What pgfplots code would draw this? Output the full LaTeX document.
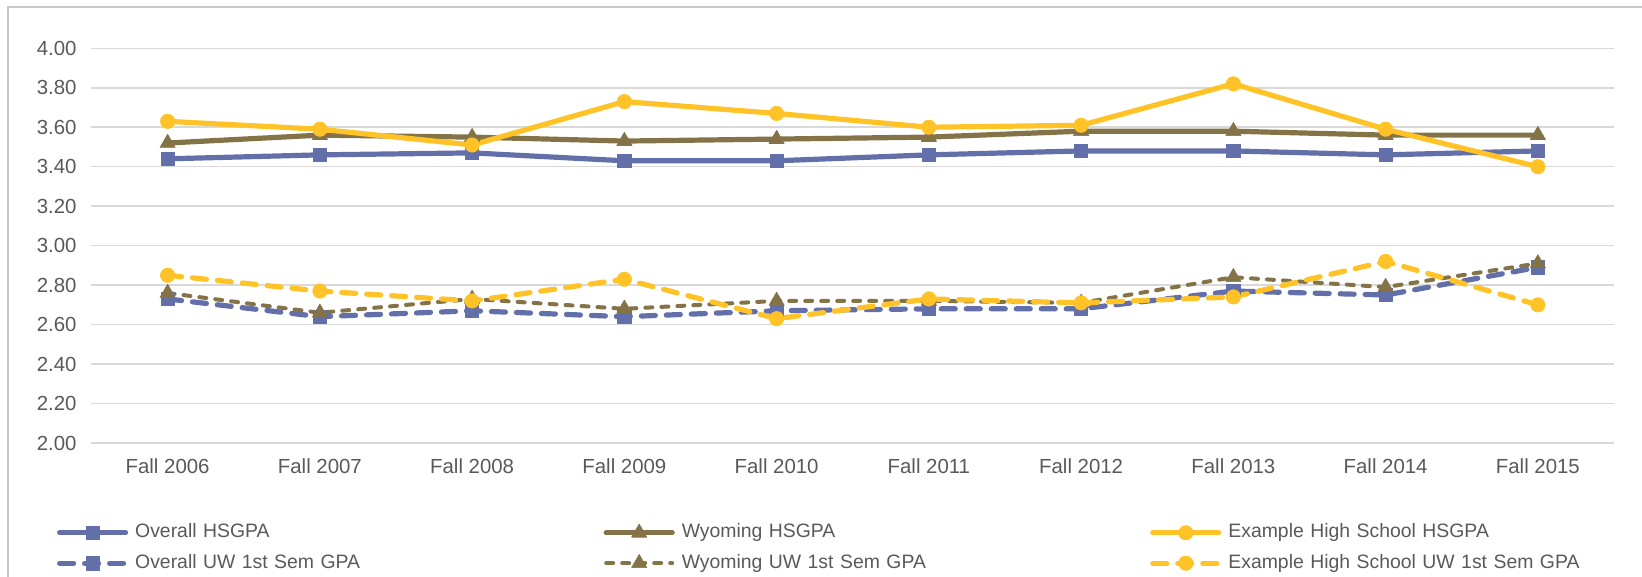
\documentclass[border=0pt]{standalone}
\usepackage{fontspec}
\setmainfont{Liberation Sans}
\usepackage{pgfplots}
\pgfplotsset{compat=1.18}
\definecolor{cblue}{RGB}{98,111,168}
\definecolor{cbrown}{RGB}{133,115,72}
\definecolor{cyellow}{RGB}{255,195,40}
\definecolor{cgrid}{RGB}{217,217,217}
\definecolor{ctext}{RGB}{89,89,89}
\definecolor{cborder}{RGB}{200,200,200}
\begin{document}
\begin{tikzpicture}
\useasboundingbox (0,0) rectangle (821bp,-288.5bp);
\draw[cborder,line width=0.75bp] (4bp,-290bp) -- (4bp,-3.5bp) -- (825bp,-3.5bp);
\begin{axis}[
  at={(45.75bp,-221.5bp)}, anchor=south west,
  scale only axis, width=761.25bp, height=197.35bp,
  xmin=-0.5, xmax=9.5, ymin=2, ymax=4,
  xtick={0,...,9},
  xticklabels={Fall 2006,Fall 2007,Fall 2008,Fall 2009,Fall 2010,Fall 2011,Fall 2012,Fall 2013,Fall 2014,Fall 2015},
  ytick={2,2.2,...,4.01},
  /pgf/number format/fixed,
  /pgf/number format/fixed zerofill,
  /pgf/number format/precision=2,
  /pgf/number format/assume math mode=true,
  every tick label/.append style={font=\fontsize{10.2bp}{12bp}\selectfont, text=ctext},
  xticklabel style={yshift=-4.5bp},
  yticklabel style={xshift=-4bp},
  major tick length=0pt,
  axis line style={draw=none},
  ymajorgrids, grid style={cgrid, line width=0.75bp},
  clip=false,
  legend columns=3,
  legend style={draw=none, fill=none, inner sep=0pt, outer sep=0pt,
    at={(axis description cs:0,0)}, anchor=west, xshift=-17.25bp, yshift=-52.5bp,
    row sep=6.2bp,
    nodes={inner sep=0pt, text width=234.2bp, align=left, text height=7bp, text depth=2bp, text=ctext, font=\fontsize{9.7bp}{11bp}\selectfont},
    /tikz/every odd column/.style={column sep=3.5bp},
    /tikz/every even column/.style={column sep=0pt}},
  legend image code/.code={\draw[mark repeat=2,mark phase=2,#1] plot coordinates {(1.25bp,0bp) (17.75bp,0bp) (34.25bp,0bp)};},
  every axis plot/.append style={line cap=round, line join=round},
]
\addplot[cblue, line width=2.6bp, mark=square*, mark size=3.3bp, mark options={fill=cblue,line width=0.3bp}] coordinates {
(0,3.44) (1,3.46) (2,3.47) (3,3.43) (4,3.43) (5,3.46) (6,3.48) (7,3.48) (8,3.46) (9,3.48)};
\addlegendentry{Overall HSGPA}
\addplot[cbrown, line width=2.6bp, mark=triangle*, mark size=4.4bp, mark options={fill=cbrown,line width=0.3bp}] coordinates {
(0,3.52) (1,3.56) (2,3.55) (3,3.53) (4,3.54) (5,3.55) (6,3.58) (7,3.58) (8,3.56) (9,3.56)};
\addlegendentry{Wyoming HSGPA}
\addplot[cyellow, line width=2.6bp, mark=*, mark size=3.6bp, mark options={fill=cyellow,line width=0.3bp}] coordinates {
(0,3.63) (1,3.59) (2,3.51) (3,3.73) (4,3.67) (5,3.60) (6,3.61) (7,3.82) (8,3.59) (9,3.40)};
\addlegendentry{Example High School HSGPA}
\addplot[cblue, line width=2.6bp, dash pattern=on 7bp off 5.5bp, mark=square*, mark size=3.3bp, mark options={fill=cblue,solid,line width=0.3bp}] coordinates {
(0,2.73) (1,2.64) (2,2.67) (3,2.64) (4,2.67) (5,2.68) (6,2.68) (7,2.77) (8,2.75) (9,2.89)};
\addlegendentry{Overall UW 1st Sem GPA}
\addplot[cbrown, line width=2bp, dash pattern=on 3.5bp off 4.5bp, mark=triangle*, mark size=4.4bp, mark options={fill=cbrown,solid,line width=0.3bp}] coordinates {
(0,2.76) (1,2.66) (2,2.73) (3,2.68) (4,2.72) (5,2.72) (6,2.71) (7,2.84) (8,2.79) (9,2.91)};
\addlegendentry{Wyoming UW 1st Sem GPA}
\addplot[cyellow, line width=2.6bp, dash pattern=on 7bp off 5.5bp, mark=*, mark size=3.6bp, mark options={fill=cyellow,solid,line width=0.3bp}] coordinates {
(0,2.85) (1,2.77) (2,2.72) (3,2.83) (4,2.63) (5,2.73) (6,2.71) (7,2.74) (8,2.92) (9,2.70)};
\addlegendentry{Example High School UW 1st Sem GPA}
\end{axis}
\end{tikzpicture}
\end{document}
